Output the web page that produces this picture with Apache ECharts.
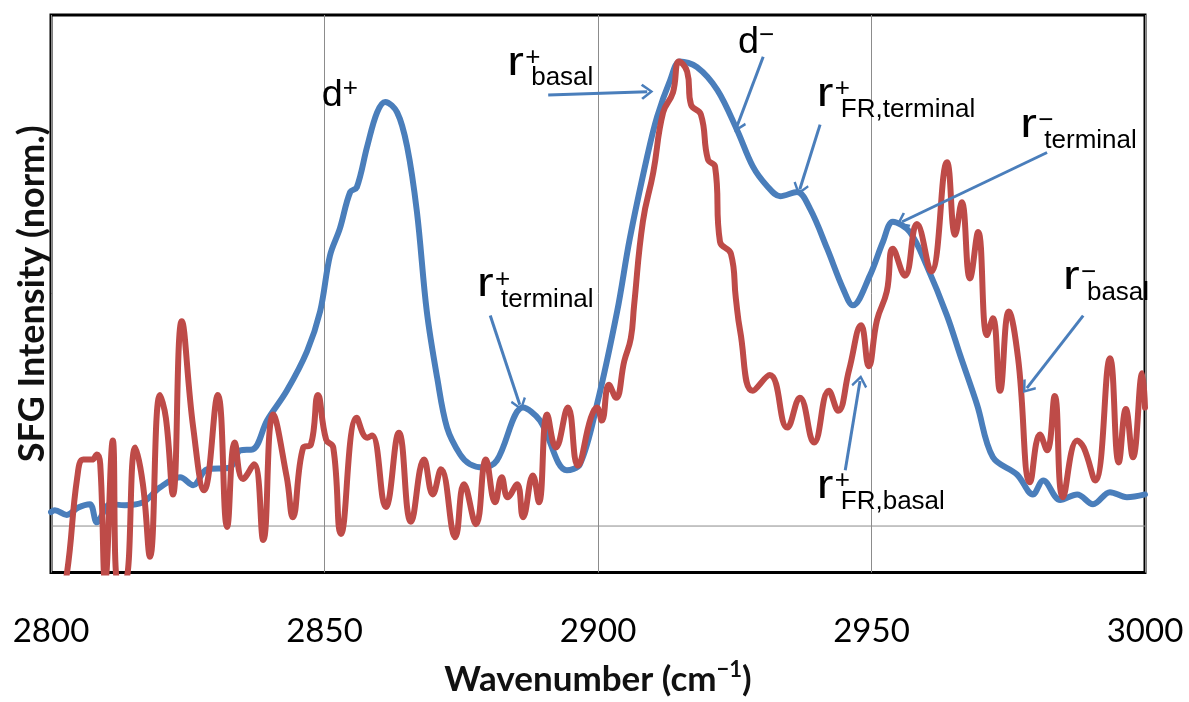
<!DOCTYPE html>
<html>
<head>
<meta charset="utf-8">
<script src="https://cdn.jsdelivr.net/npm/echarts@6/dist/echarts.min.js"></script>
<style>
  html, body { margin: 0; padding: 0; background: #fff; }
  #chart { width: 1189px; height: 702px; }
</style>
</head>
<body>
<div id="chart"></div>
<script>
// x-axis ticks (wavenumber, cm^-1)
const xTicks = [2800, 2850, 2900, 2950, 3000];

// normalized SFG spectra: [wavenumber, intensity]
const blueSpectrum = [
  [2800.0,0.030],[2800.7,0.034],[2802.9,0.024],[2805.0,0.040],[2807.1,0.047],[2808.4,0.008],
  [2810.8,0.047],[2813.5,0.045],[2816.8,0.051],[2819.9,0.083],[2823.6,0.105],[2826.0,0.088],
  [2828.5,0.122],[2832.7,0.126],[2834.6,0.163],[2836.9,0.165],[2839.5,0.227],[2843.1,0.291],
  [2846.8,0.376],[2849.2,0.462],[2851.0,0.582],[2852.8,0.640],[2854.7,0.719],[2855.9,0.729],
  [2857.8,0.817],[2859.6,0.890],[2861.1,0.913],[2863.3,0.890],[2865.1,0.817],[2866.9,0.676],
  [2868.7,0.462],[2870.6,0.319],[2872.4,0.212],[2874.8,0.154],[2876.6,0.133],[2879.0,0.126],
  [2881.5,0.141],[2886.3,0.255],[2889.4,0.227],[2894.3,0.120],[2896.7,0.133],[2899.8,0.261],
  [2903.5,0.462],[2905.8,0.618],[2909.0,0.796],[2910.8,0.881],[2913.2,0.960],[2915.0,1.000],
  [2918.1,0.988],[2921.8,0.939],[2925.4,0.853],[2928.3,0.774],[2930.9,0.732],[2933.3,0.710],
  [2936.4,0.719],[2938.8,0.682],[2941.9,0.597],[2944.8,0.511],[2946.6,0.475],[2949.7,0.539],
  [2952.1,0.612],[2953.9,0.655],[2957.0,0.633],[2960.1,0.560],[2963.8,0.453],[2966.2,0.368],
  [2969.3,0.261],[2972.2,0.148],[2976.6,0.111],[2979.5,0.068],[2981.4,0.098],[2984.5,0.056],
  [2987.6,0.068],[2990.5,0.047],[2993.6,0.073],[2996.7,0.062],[3000.0,0.068]
];

const redSpectrum = [
  [2801.7,-0.152],[2802.9,-0.103],[2804.8,0.105],[2805.9,0.143],[2807.5,0.143],[2808.4,0.154],
  [2809.0,0.133],[2809.9,-0.120],[2811.3,0.184],[2812.2,-0.120],[2813.5,-0.120],[2815.4,0.169],
  [2816.8,0.090],[2818.1,-0.066],[2819.9,0.282],[2821.0,0.233],[2822.3,0.068],[2823.9,0.441],
  [2826.0,0.212],[2828.0,0.077],[2830.5,0.282],[2832.2,-0.002],[2833.6,0.180],[2835.1,0.101],
  [2837.1,0.133],[2838.8,-0.030],[2840.6,0.240],[2843.1,0.105],[2844.2,0.019],[2846.1,0.169],
  [2847.5,0.175],[2848.8,0.282],[2850.3,0.186],[2851.6,0.169],[2853.0,-0.017],[2855.9,0.233],
  [2857.8,0.190],[2858.7,0.195],[2861.2,0.041],[2863.6,0.201],[2865.8,0.009],[2868.2,0.143],
  [2869.8,0.068],[2871.3,0.122],[2873.9,-0.024],[2875.5,0.090],[2877.7,0.004],[2879.5,0.143],
  [2881.2,0.051],[2882.4,0.105],[2883.5,0.062],[2885.2,0.090],[2886.3,0.019],[2888.1,0.109],
  [2889.2,0.051],[2890.7,0.240],[2892.3,0.169],[2894.5,0.255],[2896.3,0.130],[2898.7,0.233],
  [2899.8,0.255],[2900.7,0.227],[2902.0,0.304],[2903.3,0.276],[2904.8,0.355],[2906.0,0.404],
  [2906.6,0.475],[2908.2,0.655],[2910.1,0.761],[2911.9,0.890],[2913.7,0.933],[2914.8,1.000],
  [2916.3,0.978],[2917.0,0.907],[2918.8,0.886],[2920.1,0.789],[2921.4,0.774],[2922.3,0.612],
  [2924.3,0.586],[2925.2,0.490],[2926.0,0.419],[2928.3,0.291],[2931.4,0.325],[2934.6,0.212],
  [2936.9,0.276],[2939.5,0.180],[2942.2,0.291],[2943.9,0.248],[2945.9,0.336],[2948.1,0.432],
  [2949.5,0.344],[2951.0,0.443],[2952.8,0.505],[2953.9,0.597],[2956.1,0.539],[2958.3,0.650],
  [2960.9,0.548],[2963.8,0.783],[2965.3,0.627],[2966.5,0.697],[2968.0,0.533],[2969.5,0.633],
  [2971.1,0.411],[2972.2,0.447],[2973.5,0.291],[2975.1,0.462],[2976.8,0.361],[2979.0,0.094],
  [2980.8,0.197],[2982.1,0.163],[2983.5,0.280],[2985.0,0.062],[2987.6,0.184],[2988.8,0.169],
  [2990.9,0.098],[2993.6,0.361],[2995.2,0.137],[2996.5,0.252],[2997.8,0.148],[2999.5,0.329],
  [3000.0,0.255]
];

// band assignments: [letter, superscript, subscript, wavenumber, intensity] (left baseline of the letter)
const peakLabels = [
  ['d', '+', '', 2849.5, 0.900],
  ['r', '+', 'basal', 2883.4, 0.967],
  ['d', '\u2212', '', 2925.6, 1.014],
  ['r', '+', 'FR,terminal', 2940.0, 0.900],
  ['r', '\u2212', 'terminal', 2977.2, 0.832],
  ['r', '+', 'terminal', 2877.9, 0.490],
  ['r', '\u2212', 'basal', 2985.0, 0.505],
  ['r', '+', 'FR,basal', 2940.0, 0.056]
];

// pointer arrows: [from, to] in data coordinates
const arrowLines = [
  [[2890.9, 0.928], [2909.0, 0.935]],
  [[2930.2, 1.010], [2925.4, 0.860]],
  [[2940.6, 0.864], [2936.9, 0.725]],
  [[2982.1, 0.804], [2955.6, 0.655]],
  [[2880.3, 0.453], [2885.7, 0.261]],
  [[2988.7, 0.453], [2978.4, 0.297]],
  [[2945.2, 0.120], [2947.9, 0.312]]
];

const BLUE = '#4a7ebb';
const RED = '#be4b48';
const ARROW = '#4a7ebb';
const chevron = 'path://M0 0 L9 12 L7 14 L0 4.5 L-7 14 L-9 12 Z';

const chart = echarts.init(document.getElementById('chart'), null, { renderer: 'canvas' });

const option = {
  animation: false,
  grid: {
    left: 51, right: 44, top: 15, bottom: 126,
    show: true, borderColor: '#000', borderWidth: 3, backgroundColor: 'transparent'
  },
  xAxis: {
    type: 'value', min: xTicks[0], max: xTicks[xTicks.length - 1], interval: 50,
    axisLine: { show: false }, axisTick: { show: false },
    splitLine: { show: true, lineStyle: { color: '#8c8c8c', width: 1 } },
    axisLabel: { margin: 42, color: '#000', fontFamily: 'Lato', fontSize: 33, formatter: v => String(v) },
    name: '{t|Wavenumber (cm}{s|\u22121}{t|)}',
    nameLocation: 'middle', nameGap: 86,
    nameTextStyle: {
      rich: {
        t: { fontFamily: 'Lato', fontWeight: 'bold', fontSize: 35, color: '#111', lineHeight: 42 },
        s: { fontFamily: 'Lato', fontWeight: 'bold', fontSize: 22, color: '#111', lineHeight: 26, verticalAlign: 'top' }
      }
    }
  },
  yAxis: {
    type: 'value', min: -0.1, max: 1.1,
    axisLine: { show: false }, axisTick: { show: false }, axisLabel: { show: false },
    splitLine: { show: false },
    name: 'SFG Intensity (norm.)', nameLocation: 'middle', nameRotate: 90, nameGap: 1,
    nameTextStyle: { fontFamily: 'Lato', fontWeight: 'bold', fontSize: 36, color: '#111' }
  },
  series: [
    {
      // zero-intensity reference line
      type: 'line', name: 'zero', silent: true, z: 1, symbol: 'none',
      data: [[xTicks[0], 0], [xTicks[xTicks.length - 1], 0]],
      lineStyle: { color: '#8c8c8c', width: 1 }
    },
    {
      type: 'line', name: 'blue', z: 2, symbol: 'none', smooth: 0.35,
      data: blueSpectrum,
      lineStyle: { color: BLUE, width: 6, cap: 'round', join: 'round' }
    },
    {
      type: 'line', name: 'red', z: 3, symbol: 'none', smooth: 0.45,
      data: redSpectrum,
      lineStyle: { color: RED, width: 6, cap: 'round', join: 'round' },
      markLine: {
        silent: true, animation: false,
        symbol: ['none', chevron], symbolSize: 16, symbolKeepAspect: true,
        label: { show: false },
        lineStyle: { color: ARROW, width: 3, type: 'solid' },
        emphasis: { disabled: true },
        data: arrowLines.map(([a, b]) => [{ coord: a }, { coord: b }])
      }
    }
  ]
};

chart.setOption(option);

// peak assignment labels with super/subscripts
const SMALL = 26;
const FONT = '"Liberation Sans", Arial, sans-serif';
const texts = [];
peakLabels.forEach(([letter, sup, sub, w, v]) => {
  const [px, py] = chart.convertToPixel({ gridIndex: 0 }, [w, v]);
  const isR = letter === 'r';
  const size = isR ? 40 : 36;
  texts.push({
    type: 'text', x: px, y: py - 0.33 * size, z: 10,
    scaleX: isR ? 1.25 : 1.05,
    style: { text: letter, font: size + 'px ' + FONT, fill: '#000', align: 'left', verticalAlign: 'middle' }
  });
  texts.push({
    type: 'text', x: px + (isR ? 18 : 21), y: py - 19, z: 10,
    style: { text: sup, font: SMALL + 'px ' + FONT, fill: '#000', align: 'left', verticalAlign: 'middle' }
  });
  if (sub) {
    texts.push({
      type: 'text', x: px + 24, y: py + 10 - 0.33 * SMALL, z: 10,
      style: { text: sub, font: SMALL + 'px ' + FONT, fill: '#000', align: 'left', verticalAlign: 'middle' }
    });
  }
});
chart.setOption({ graphic: { elements: texts } });
</script>
</body>
</html>
